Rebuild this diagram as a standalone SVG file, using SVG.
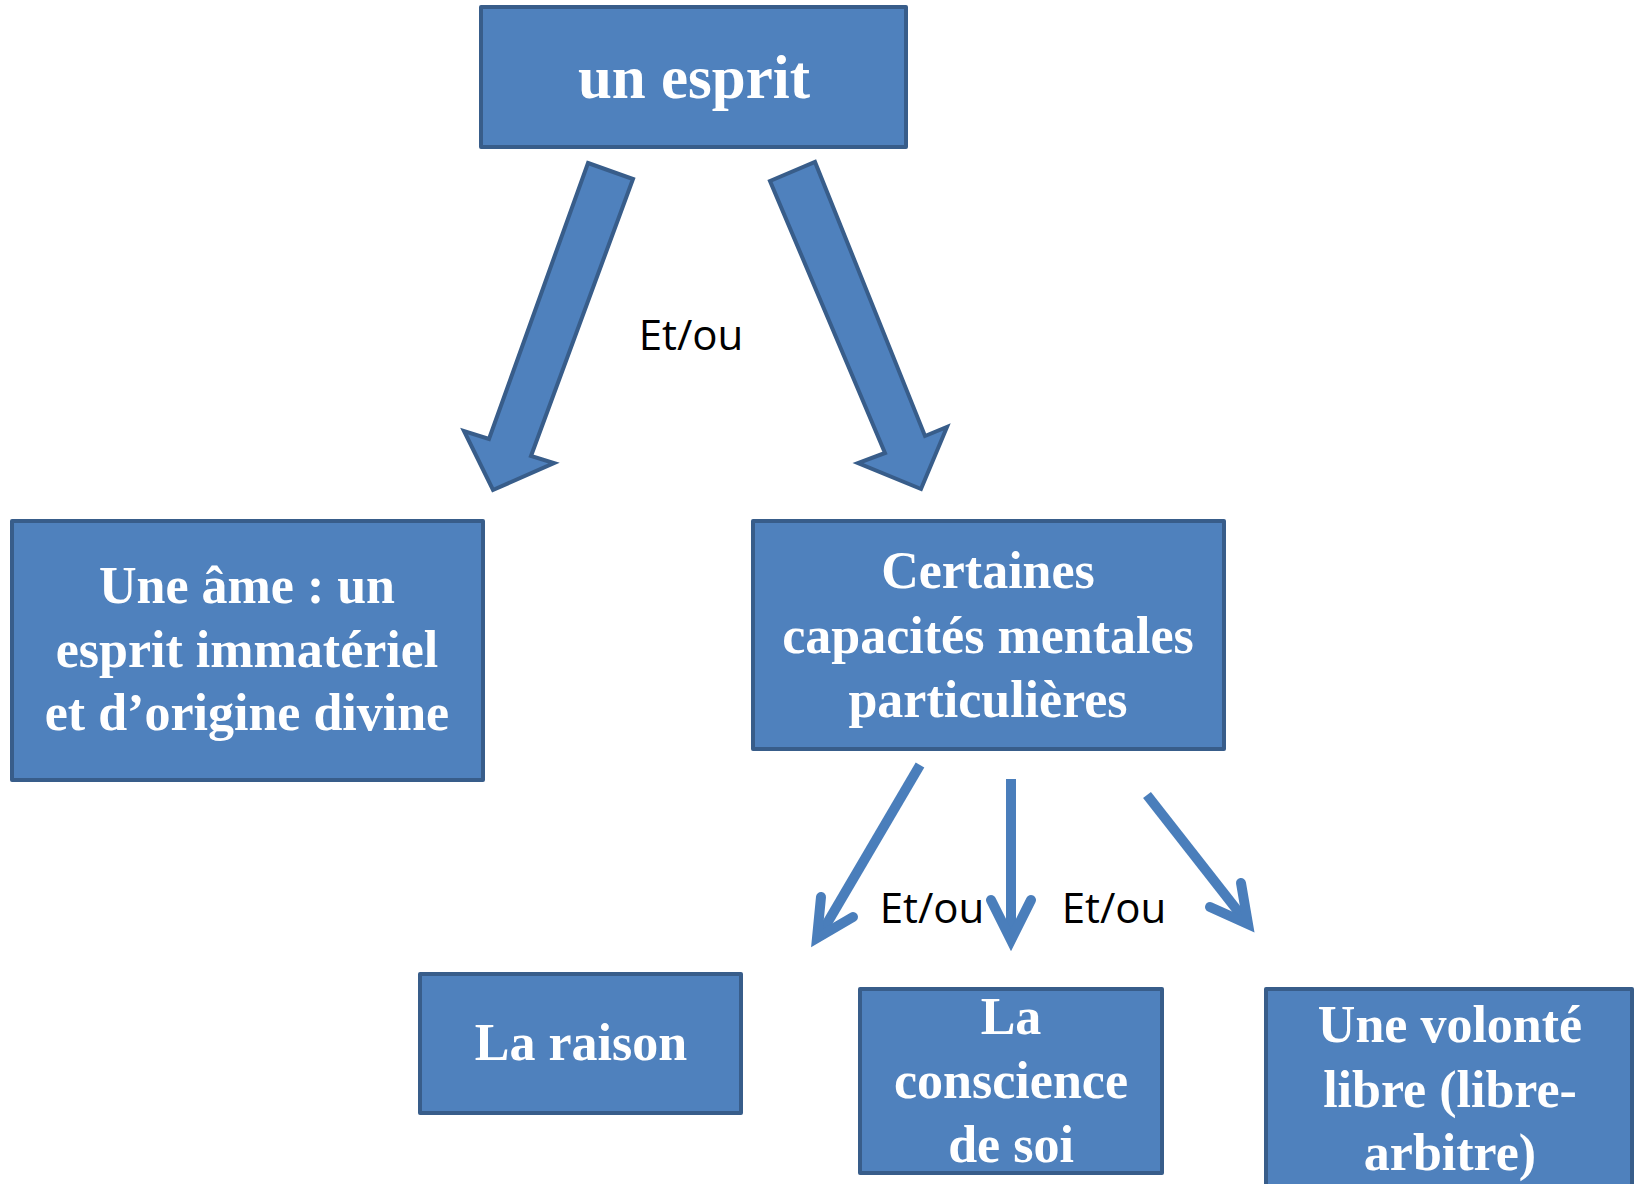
<svg xmlns="http://www.w3.org/2000/svg" width="1637" height="1184" viewBox="0 0 1637 1184">
<style>
.box{fill:#4F81BD;stroke:#385D8A;stroke-width:4;stroke-linejoin:round}
.t{font-family:"Liberation Serif",serif;font-weight:bold;fill:#FFFFFF;text-anchor:middle;font-size:52px}
.big{fill:#4F81BD;stroke:#385D8A;stroke-width:4;stroke-linejoin:miter}
.thin{fill:none;stroke:#4A7EBB;stroke-width:10;stroke-linecap:butt}
.head{fill:none;stroke:#4A7EBB;stroke-width:10;stroke-linecap:round;stroke-linejoin:miter}
.lbl{font-family:"Open Sans","Liberation Sans",sans-serif;font-size:42px;fill:#000000;text-anchor:middle}
</style>
<rect width="1637" height="1184" fill="#FFFFFF"/>
<g id="connectors">
<polygon class="big" points="588,163 633,179 531,456 554,463 493,490 464,431 489,439"/>
<polygon class="big" points="770,181 815,162 925,436 947,427 921,489 858,463 885,453"/>
<path class="thin" d="M920,765 L819,937"/>
<path class="head" d="M821,897 L817,938 L853,917"/>
<path class="thin" d="M1011,779 L1011,940"/>
<path class="head" d="M991,900 L1011,940 L1031,900"/>
<path class="thin" d="M1147,795 L1248,924"/>
<path class="head" d="M1241,883 L1248,924 L1210,907"/>
<text class="lbl" x="691" y="350">Et/ou</text>
<text class="lbl" x="932" y="923">Et/ou</text>
<text class="lbl" x="1114" y="923">Et/ou</text>
</g>
<g id="node-esprit">
<rect class="box" x="481" y="7" width="425" height="140"/>
<text class="t" x="694" y="98" style="font-size:61px">un esprit</text>
</g>
<g id="node-ame">
<rect class="box" x="12" y="521" width="471" height="259"/>
<text class="t" x="247" y="603">Une âme : un</text>
<text class="t" x="247" y="667">esprit immatériel</text>
<text class="t" x="247" y="730">et d’origine divine</text>
</g>
<g id="node-capacites">
<rect class="box" x="753" y="521" width="471" height="228"/>
<text class="t" x="988" y="588">Certaines</text>
<text class="t" x="988" y="653">capacités mentales</text>
<text class="t" x="988" y="717">particulières</text>
</g>
<g id="node-raison">
<rect class="box" x="420" y="974" width="321" height="139"/>
<text class="t" x="581" y="1060">La raison</text>
</g>
<g id="node-conscience">
<rect class="box" x="860" y="989" width="302" height="184"/>
<text class="t" x="1011" y="1034">La</text>
<text class="t" x="1011" y="1098">conscience</text>
<text class="t" x="1011" y="1162">de soi</text>
</g>
<g id="node-volonte">
<rect class="box" x="1266" y="989" width="366" height="220"/>
<text class="t" x="1450" y="1042">Une volonté</text>
<text class="t" x="1450" y="1107">libre (libre-</text>
<text class="t" x="1450" y="1170">arbitre)</text>
</g>
</svg>
